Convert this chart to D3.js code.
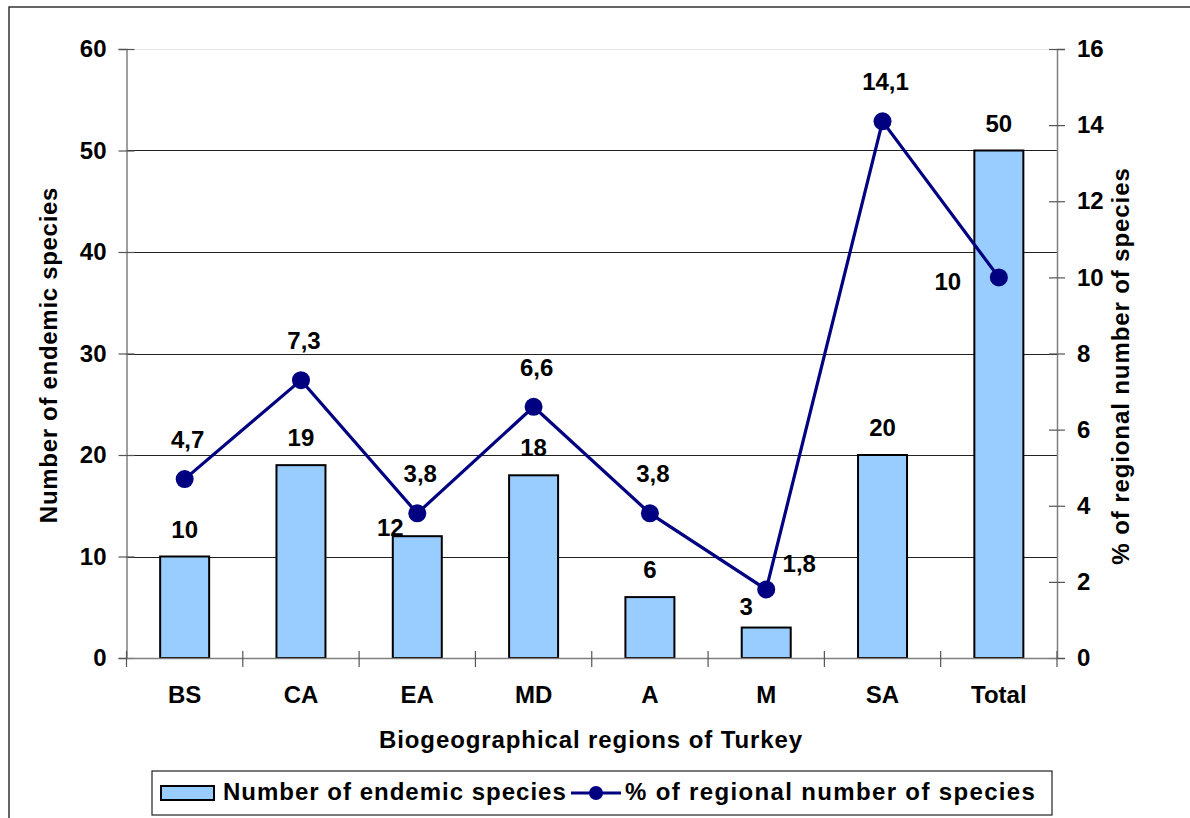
<!DOCTYPE html>
<html>
<head>
<meta charset="utf-8">
<script src="https://cdn.jsdelivr.net/npm/d3@7"></script>
<style>
  html, body { margin: 0; padding: 0; background: #fff; }
  svg { display: block; }
  text { font-family: "Liberation Sans", Arial, sans-serif; font-weight: bold; fill: #000; }
</style>
</head>
<body>
<svg id="chart" width="1190" height="818"></svg>
<script>
// ---- Data ----
const categories = ["BS", "CA", "EA", "MD", "A", "M", "SA", "Total"];
const endemicCounts = [10, 19, 12, 18, 6, 3, 20, 50];
const regionalPercent = [4.7, 7.3, 3.8, 6.6, 3.8, 1.8, 14.1, 10];
const percentLabels = ["4,7", "7,3", "3,8", "6,6", "3,8", "1,8", "14,1", "10"];
const leftTicks = [0, 10, 20, 30, 40, 50, 60];
const rightTicks = [0, 2, 4, 6, 8, 10, 12, 14, 16];
// label placement keywords (as placed in the original chart)
const barLabelPlacement = ["above", "above", "left", "above", "above", "upperLeft", "above", "above"];
const pctLabelPlacement = ["above", "above", "above", "above", "above", "right", "above", "left"];

const svg = d3.select("#chart");
const FONT = '"Liberation Sans", Arial, sans-serif';
const FS = 24;

// outer frame
svg.append("rect").attr("x", 9).attr("y", 7).attr("width", 1240).attr("height", 900)
  .attr("fill", "none").attr("stroke", "#333").attr("stroke-width", 1.5);

const plot = { left: 126.5, right: 1057, top: 49, bottom: 658 };

const x = d3.scaleBand().domain(categories).range([plot.left, plot.right]).padding(0);
const yL = d3.scaleLinear().domain([0, 60]).range([plot.bottom, plot.top]);
const yR = d3.scaleLinear().domain([0, 16]).range([plot.bottom, plot.top]);
const barW = 49;
const cx = c => x(c) + x.bandwidth() / 2;

// gridlines
svg.append("g").selectAll("line").data(leftTicks.filter(t => t > 0)).join("line")
  .attr("x1", plot.left).attr("x2", plot.right)
  .attr("y1", d => Math.round(yL(d)) + 0.5).attr("y2", d => Math.round(yL(d)) + 0.5)
  .attr("stroke", d => d === 60 ? "#e6e6e6" : "#222").attr("stroke-width", 1);

// bars
svg.append("g").selectAll("rect").data(endemicCounts).join("rect")
  .attr("x", (d, i) => cx(categories[i]) - barW / 2)
  .attr("y", d => yL(d))
  .attr("width", barW)
  .attr("height", d => yL(0) - yL(d))
  .attr("fill", "#99CCFF").attr("stroke", "#000").attr("stroke-width", 2);

// axes
const axL = svg.append("g").attr("transform", `translate(${plot.left},0)`)
  .call(d3.axisLeft(yL).tickValues(leftTicks).tickSize(8).tickPadding(12));
axL.selectAll(".tick line").attr("x1", 8).attr("x2", -8);
const axR = svg.append("g").attr("transform", `translate(${plot.right},0)`)
  .call(d3.axisRight(yR).tickValues(rightTicks).tickSize(8).tickPadding(12));
axR.selectAll(".tick line").attr("x1", -8).attr("x2", 8);
const axB = svg.append("g").attr("transform", `translate(0,${plot.bottom})`)
  .call(d3.axisBottom(x).tickSize(0).tickPadding(28));
[axL, axR, axB].forEach(a => {
  a.select(".domain").attr("stroke", "#808080").attr("stroke-width", 1.5);
  a.selectAll(".tick line").attr("stroke", "#555").attr("stroke-width", 1.2);
  a.selectAll("text").style("font-size", FS + "px").style("font-family", FONT).style("font-weight", "bold").attr("fill", "#000");
});
// category boundary ticks
const bounds = categories.map(c => x(c)).concat([plot.right]);
svg.append("g").selectAll("line").data(bounds).join("line")
  .attr("x1", d => d).attr("x2", d => d)
  .attr("y1", plot.bottom - 7).attr("y2", plot.bottom + 9)
  .attr("stroke", "#555").attr("stroke-width", 1.2);

// line series
const line = d3.line().x((d, i) => cx(categories[i])).y(d => yR(d));
svg.append("path").datum(regionalPercent).attr("d", line)
  .attr("fill", "none").attr("stroke", "#000080").attr("stroke-width", 3.2);
svg.append("g").selectAll("circle").data(regionalPercent).join("circle")
  .attr("cx", (d, i) => cx(categories[i])).attr("cy", d => yR(d)).attr("r", 9)
  .attr("fill", "#000080");

// bar labels
const barOff = { above: [0, -19], left: [-27, 0], upperLeft: [-20, -13] };
svg.append("g").selectAll("text").data(endemicCounts).join("text")
  .attr("x", (d, i) => cx(categories[i]) + barOff[barLabelPlacement[i]][0])
  .attr("y", (d, i) => yL(d) + barOff[barLabelPlacement[i]][1])
  .attr("text-anchor", "middle").style("font-size", FS + "px")
  .text(d => d);

// percent labels
const pctOff = { above: [3, -31], right: [33, -17], left: [-51, 13] };
svg.append("g").selectAll("text").data(regionalPercent).join("text")
  .attr("x", (d, i) => cx(categories[i]) + pctOff[pctLabelPlacement[i]][0])
  .attr("y", (d, i) => yR(d) + pctOff[pctLabelPlacement[i]][1])
  .attr("text-anchor", "middle").style("font-size", FS + "px")
  .text((d, i) => percentLabels[i]);

// axis titles
svg.append("text").attr("transform", "translate(57,355) rotate(-90)")
  .attr("text-anchor", "middle").style("font-size", FS + "px").style("letter-spacing", "0.7px")
  .text("Number of endemic species");
svg.append("text").attr("transform", "translate(1129,366) rotate(-90)")
  .attr("text-anchor", "middle").style("font-size", FS + "px").style("letter-spacing", "0.9px")
  .text("% of regional number of species");
svg.append("text").attr("x", 591).attr("y", 748)
  .attr("text-anchor", "middle").style("font-size", FS + "px").style("letter-spacing", "0.9px")
  .text("Biogeographical regions of Turkey");

// legend
const lg = svg.append("g");
lg.append("rect").attr("x", 152).attr("y", 771).attr("width", 900).attr("height", 44)
  .attr("fill", "#fff").attr("stroke", "#222").attr("stroke-width", 1.2);
lg.append("rect").attr("x", 161).attr("y", 786).attr("width", 53).attr("height", 14)
  .attr("fill", "#99CCFF").attr("stroke", "#000").attr("stroke-width", 2);
lg.append("text").attr("x", 223).attr("y", 800).style("font-size", FS + "px").style("letter-spacing", "1px")
  .text("Number of endemic species");
lg.append("line").attr("x1", 571).attr("x2", 621).attr("y1", 793).attr("y2", 793)
  .attr("stroke", "#000080").attr("stroke-width", 3.2);
lg.append("circle").attr("cx", 596).attr("cy", 793).attr("r", 7).attr("fill", "#000080");
lg.append("text").attr("x", 625).attr("y", 800).style("font-size", FS + "px").style("letter-spacing", "1.35px")
  .text("% of regional number of species");
</script>
</body>
</html>
